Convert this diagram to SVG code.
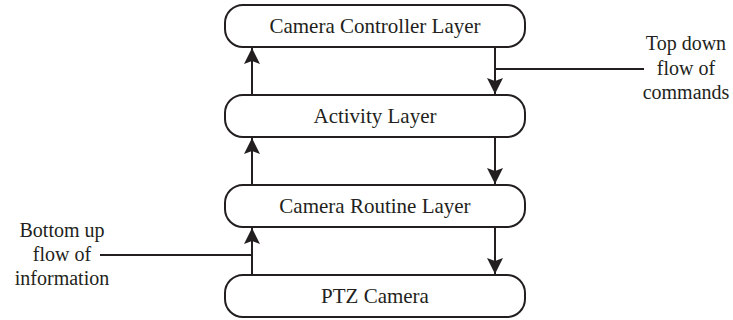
<svg xmlns="http://www.w3.org/2000/svg" width="733" height="320" viewBox="0 0 733 320">
<defs>
<marker id="ah" viewBox="0 0 16 16" refX="16" refY="8" markerWidth="16" markerHeight="16" markerUnits="userSpaceOnUse" orient="auto">
<path d="M0,0 L16,8 L0,16 L3,8 Z" fill="#231f20"/>
</marker>
<style>
.box{fill:#fff;stroke:#231f20;stroke-width:2}
.lbl{font-family:"Liberation Serif","Times New Roman",serif;font-size:21px;fill:#231f20;text-anchor:middle}
.note{font-family:"Liberation Serif","Times New Roman",serif;font-size:20px;fill:#231f20;text-anchor:middle}
.ln{stroke:#231f20;stroke-width:2;fill:none}
</style>
</defs>
<rect width="733" height="320" fill="#fff"/>
<g id="connectors">
<line class="ln" x1="252" y1="95" x2="252" y2="48" marker-end="url(#ah)"/>
<line class="ln" x1="252" y1="185" x2="252" y2="138" marker-end="url(#ah)"/>
<line class="ln" x1="252" y1="275" x2="252" y2="228" marker-end="url(#ah)"/>
<line class="ln" x1="495" y1="47" x2="495" y2="94" marker-end="url(#ah)"/>
<line class="ln" x1="495" y1="137" x2="495" y2="184" marker-end="url(#ah)"/>
<line class="ln" x1="495" y1="227" x2="495" y2="274" marker-end="url(#ah)"/>
<line class="ln" x1="495" y1="69" x2="644" y2="69"/>
<line class="ln" x1="100" y1="255" x2="252" y2="255"/>
</g>
<g id="camera-controller-layer">
<rect class="box" x="225" y="5" width="300" height="42" rx="18"/>
<text class="lbl" x="375" y="33">Camera Controller Layer</text>
</g>
<g id="activity-layer">
<rect class="box" x="225" y="95" width="300" height="42" rx="18"/>
<text class="lbl" x="375" y="123">Activity Layer</text>
</g>
<g id="camera-routine-layer">
<rect class="box" x="225" y="185" width="300" height="42" rx="18"/>
<text class="lbl" x="375" y="213">Camera Routine Layer</text>
</g>
<g id="ptz-camera">
<rect class="box" x="225" y="275" width="300" height="42" rx="18"/>
<text class="lbl" x="375" y="303">PTZ Camera</text>
</g>
<g id="top-down-note">
<text class="note" x="686" y="50">Top down</text>
<text class="note" x="686" y="75">flow of</text>
<text class="note" x="686" y="99">commands</text>
</g>
<g id="bottom-up-note">
<text class="note" x="62" y="237">Bottom up</text>
<text class="note" x="62" y="261">flow of</text>
<text class="note" x="62" y="285">information</text>
</g>
</svg>
